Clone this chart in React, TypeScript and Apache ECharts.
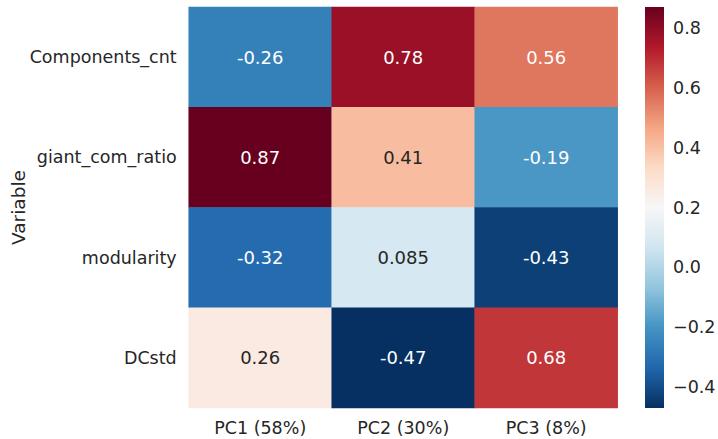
import React, { useEffect, useRef } from "react";
import * as echarts from "echarts";

const components = ["PC1 (58%)", "PC2 (30%)", "PC3 (8%)"];
const variables = ["Components_cnt", "giant_com_ratio", "modularity", "DCstd"];
const pc1 = [-0.26, 0.87, -0.32, 0.26];
const pc2 = [0.78, 0.41, 0.085, -0.47];
const pc3 = [0.56, -0.19, -0.43, 0.68];
const colorbarTicks = [-0.4, -0.2, 0.0, 0.2, 0.4, 0.6, 0.8];
const rdbuR = [
  "#053061", "#2166ac", "#4393c3", "#92c5de", "#d1e5f0", "#f7f7f7",
  "#fddbc7", "#f4a582", "#d6604d", "#b2182b", "#67001f",
];

function hexToRgb(h: string) {
  return [1, 3, 5].map((i) => parseInt(h.slice(i, i + 2), 16));
}
function colorAt(v: number, min: number, max: number) {
  const t = Math.min(1, Math.max(0, (v - min) / (max - min))) * (rdbuR.length - 1);
  const i = Math.min(rdbuR.length - 2, Math.floor(t));
  const f = t - i;
  const a = hexToRgb(rdbuR[i]);
  const b = hexToRgb(rdbuR[i + 1]);
  return a.map((x, k) => x + (b[k] - x) * f);
}
function luminance(rgb: number[]) {
  const c = rgb.map((x) => {
    const s = x / 255;
    return s <= 0.03928 ? s / 12.92 : Math.pow((s + 0.055) / 1.055, 2.4);
  });
  return 0.2126 * c[0] + 0.7152 * c[1] + 0.0722 * c[2];
}

export default function App() {
  const ref = useRef<HTMLDivElement>(null);
  useEffect(() => {
    if (!ref.current) return;
    const chart = echarts.init(ref.current, undefined, { renderer: "svg" });
    const cols = [pc1, pc2, pc3];
    const all = cols.flat();
    const vmin = Math.min(...all);
    const vmax = Math.max(...all);
    const data: any[] = [];
    cols.forEach((col, ci) => {
      col.forEach((v, ri) => {
        const lum = luminance(colorAt(v, vmin, vmax));
        data.push({
          value: [ci, ri, v],
          label: { color: lum > 0.408 ? "#262626" : "#ffffff" },
        });
      });
    });
    const font = "DejaVu Sans";
    const textColor = "#262626";
    chart.setOption({
      animation: false,
      backgroundColor: "#ffffff",
      grid: [
        { left: 188.7, top: 7, width: 429, height: 401, outerBoundsMode: "none", containLabel: false },
        { left: 645, top: 7, width: 19, height: 401, outerBoundsMode: "none", containLabel: false },
      ],
      xAxis: [
        {
          type: "category",
          gridIndex: 0,
          data: components,
          axisLine: { show: false },
          axisTick: { show: false },
          splitLine: { show: false },
          axisLabel: { color: textColor, fontFamily: font, fontSize: 17.5, margin: 11 },
        },
        { type: "value", gridIndex: 1, min: 0, max: 1, show: false },
      ],
      yAxis: [
        {
          type: "category",
          gridIndex: 0,
          data: variables,
          inverse: true,
          axisLine: { show: false },
          axisTick: { show: false },
          splitLine: { show: false },
          axisLabel: { color: textColor, fontFamily: font, fontSize: 17.5, margin: 12 },
          name: "Variable",
          nameLocation: "middle",
          nameGap: 161,
          nameMoveOverlap: false,
          nameTextStyle: { color: textColor, fontFamily: font, fontSize: 18.5 },
        },
        {
          type: "value",
          gridIndex: 1,
          position: "right",
          min: vmin,
          max: vmax,
          axisLine: { show: false },
          splitLine: { show: false },
          axisTick: {
            show: true,
            length: 5,
            customValues: colorbarTicks,
            lineStyle: { color: textColor, width: 1 },
          },
          axisLabel: {
            show: true,
            customValues: colorbarTicks,
            margin: 9,
            color: textColor,
            fontFamily: font,
            fontSize: 17.5,
            formatter: (v: number) => v.toFixed(1).replace("-", "\u2212"),
          },
        },
      ],
      visualMap: {
        show: false,
        type: "continuous",
        min: vmin,
        max: vmax,
        dimension: 2,
        seriesIndex: 0,
        inRange: { color: rdbuR },
      },
      series: [
        {
          type: "heatmap",
          xAxisIndex: 0,
          yAxisIndex: 0,
          data,
          itemStyle: { borderWidth: 0 },
          label: {
            show: true,
            fontFamily: font,
            fontSize: 18,
            formatter: (p: any) => String(Number(p.value[2].toPrecision(2))),
          },
        },
        {
          type: "custom",
          xAxisIndex: 1,
          yAxisIndex: 1,
          clip: false,
          data: [[0.5, vmin, vmax]],
          renderItem: (params: any, api: any) => {
            const cs = params.coordSys;
            const top = api.coord([0.5, api.value(2)])[1];
            const bottom = api.coord([0.5, api.value(1)])[1];
            return {
              type: "rect",
              shape: { x: cs.x, y: top, width: cs.width, height: bottom - top },
              style: {
                fill: new echarts.graphic.LinearGradient(
                  0, 1, 0, 0,
                  rdbuR.map((c, i) => ({ offset: i / (rdbuR.length - 1), color: c }))
                ),
              },
            };
          },
        },
      ],
    });
    return () => chart.dispose();
  }, []);
  return (
    <div
      ref={ref}
      style={{ position: "absolute", left: 0, top: 0, width: 718, height: 439 }}
    />
  );
}
